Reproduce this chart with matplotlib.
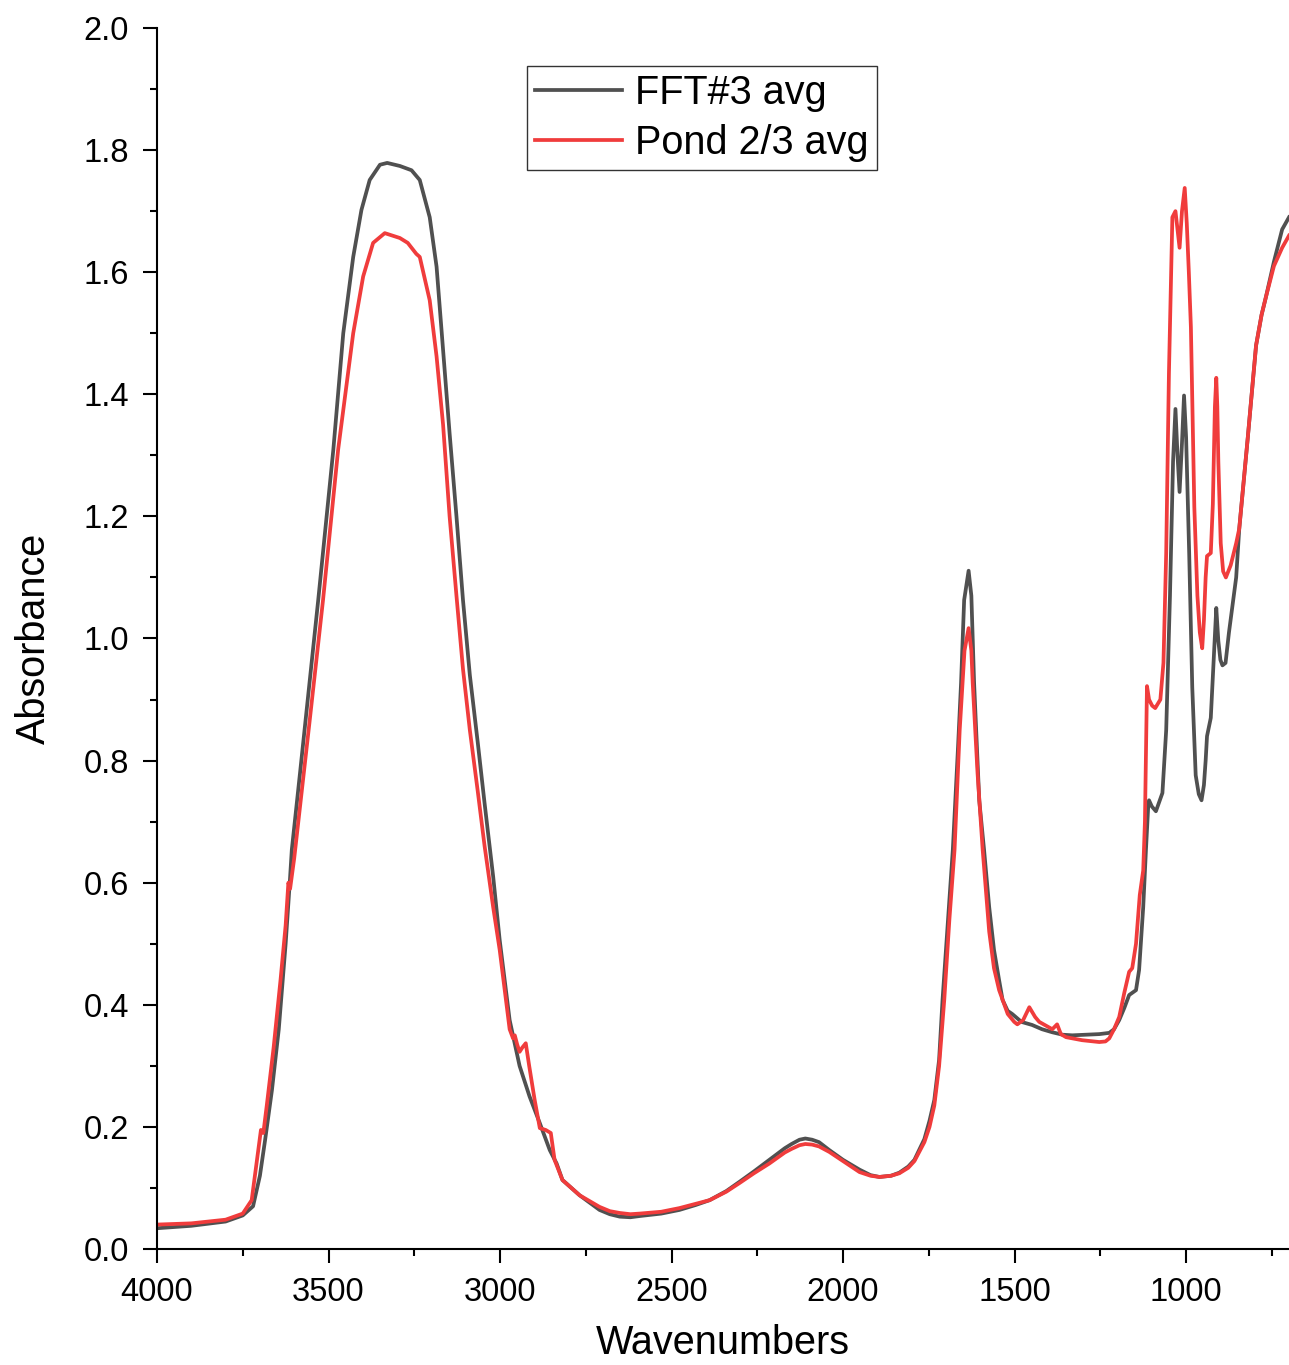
import matplotlib
matplotlib.use("Agg")
from matplotlib import pyplot as plt
from matplotlib.ticker import MultipleLocator, FormatStrFormatter

plt.rcParams['font.family'] = ['Liberation Sans', 'DejaVu Sans']

# FFT#3 avg (wavenumber, absorbance)
wn_fft = [4000, 3900, 3800, 3750, 3720, 3700, 3685, 3665, 3645, 3625, 3613, 3607, 3583, 3555,
          3530, 3486, 3457, 3428, 3404, 3380, 3350, 3329, 3292, 3258, 3234, 3205, 3185, 3166,
          3147, 3127, 3108, 3088, 3065, 3045, 3020, 3001, 2972, 2943, 2914, 2884,
          2855, 2835, 2818, 2768, 2710, 2680, 2651, 2620, 2593, 2530, 2477, 2430, 2389, 2340,
          2302, 2260, 2215, 2170, 2150, 2127, 2110, 2090, 2070, 2040, 2000, 1952, 1920, 1894,
          1860, 1836, 1810, 1792, 1763, 1748, 1734, 1720, 1710, 1695, 1680, 1665, 1656, 1647,
          1634, 1626, 1618, 1603, 1589, 1574, 1560, 1545, 1535, 1520, 1507, 1480, 1449, 1420,
          1390, 1360, 1332, 1290, 1253, 1224, 1210, 1195, 1180, 1166, 1146, 1137, 1125, 1117,
          1110, 1108, 1100, 1088, 1069, 1058, 1047, 1038, 1031, 1025, 1019, 1012, 1006, 1000,
          991, 982, 972, 963, 955, 948, 943, 939, 928, 917, 912, 906, 900, 894, 885, 875, 854,
          845, 820, 796, 780, 767, 744, 720, 700]
abs_fft = [0.034, 0.038, 0.045, 0.055, 0.07, 0.12, 0.178, 0.26, 0.36, 0.50, 0.60, 0.654, 0.78, 0.93,
           1.063, 1.309, 1.50, 1.625, 1.702, 1.751, 1.776, 1.779, 1.774, 1.767, 1.751, 1.69, 1.609, 1.473,
           1.336, 1.2, 1.063, 0.94, 0.83, 0.73, 0.61, 0.506, 0.375, 0.30, 0.25, 0.206,
           0.162, 0.14, 0.113, 0.088, 0.064, 0.057, 0.053, 0.052, 0.054, 0.058, 0.064, 0.072, 0.08, 0.095,
           0.11, 0.127, 0.146, 0.165, 0.172, 0.179, 0.181, 0.179, 0.175, 0.162, 0.146, 0.13, 0.121, 0.118,
           0.12, 0.125, 0.135, 0.146, 0.18, 0.21, 0.244, 0.31, 0.408, 0.53, 0.654, 0.82, 0.927, 1.063,
           1.111, 1.07, 0.927, 0.735, 0.654, 0.56, 0.49, 0.44, 0.408, 0.39, 0.385, 0.372, 0.367, 0.36,
           0.355, 0.351, 0.35, 0.351, 0.352, 0.354, 0.36, 0.375, 0.395, 0.416, 0.424, 0.457, 0.56, 0.654,
           0.73, 0.735, 0.725, 0.717, 0.747, 0.85, 1.07, 1.29, 1.376, 1.30, 1.24, 1.32, 1.398, 1.33,
           1.14, 0.92, 0.776, 0.745, 0.735, 0.76, 0.80, 0.84, 0.87, 0.996, 1.05, 0.996, 0.965, 0.956, 0.96, 1.01, 1.10,
           1.18, 1.33, 1.48, 1.53, 1.56, 1.617, 1.67, 1.69]

# Pond 2/3 avg
wn_pond = [4000, 3900, 3800, 3750, 3724, 3705, 3697, 3690, 3680, 3660, 3640, 3625, 3617, 3612,
           3600, 3583, 3555, 3516, 3472, 3428, 3399, 3370, 3336, 3292, 3269, 3244, 3234, 3205,
           3185, 3166, 3147, 3127, 3108, 3088, 3065, 3045, 3020, 3001, 2972, 2962, 2957, 2950,
           2943, 2935, 2925, 2915, 2899, 2884, 2867, 2852, 2841, 2818, 2768, 2710, 2680, 2651,
           2620, 2593, 2530, 2477, 2430, 2389, 2340, 2302, 2260, 2215, 2170, 2150, 2127, 2110,
           2090, 2070, 2040, 2000, 1952, 1920, 1894, 1860, 1836, 1810, 1792, 1763, 1748, 1734,
           1720, 1705, 1690, 1675, 1660, 1646, 1634, 1626, 1622, 1608, 1593, 1574, 1560, 1545,
           1520, 1501, 1492, 1475, 1457, 1440, 1428, 1390, 1376, 1365, 1350, 1303, 1253, 1235,
           1224, 1210, 1195, 1180, 1166, 1157, 1146, 1135, 1125, 1120, 1114, 1108, 1099, 1090,
           1075, 1066, 1058, 1050, 1040, 1031, 1025, 1019, 1012, 1004, 998, 992, 986, 976, 967,
           960, 953, 948, 943, 939, 928, 922, 916, 912, 909, 906, 899, 892, 884, 870, 854, 845,
           820, 796, 780, 767, 744, 720, 700]
abs_pond = [0.040, 0.042, 0.048, 0.058, 0.08, 0.16, 0.195, 0.19, 0.235, 0.33, 0.44, 0.53, 0.60, 0.59,
            0.64, 0.725, 0.865, 1.063, 1.309, 1.50, 1.593, 1.648, 1.664, 1.656, 1.648, 1.63, 1.625, 1.554,
            1.462, 1.35, 1.2, 1.07, 0.95, 0.85, 0.75, 0.66, 0.56, 0.49, 0.36, 0.345, 0.35, 0.335,
            0.323, 0.33, 0.337, 0.30, 0.244, 0.198, 0.195, 0.19, 0.146, 0.113, 0.088, 0.069, 0.062, 0.059,
            0.057, 0.058, 0.061, 0.067, 0.074, 0.08, 0.094, 0.108, 0.124, 0.14, 0.158, 0.164, 0.17, 0.172,
            0.171, 0.168, 0.159, 0.144, 0.126, 0.12, 0.118, 0.12, 0.124, 0.133, 0.144, 0.175, 0.20, 0.235,
            0.30, 0.408, 0.54, 0.654, 0.85, 0.98, 1.017, 0.98, 0.927, 0.78, 0.654, 0.52, 0.46, 0.424,
            0.385, 0.372, 0.368, 0.375, 0.396, 0.38, 0.372, 0.36, 0.368, 0.352, 0.347, 0.342, 0.339, 0.34,
            0.345, 0.36, 0.38, 0.42, 0.454, 0.46, 0.50, 0.58, 0.62, 0.70, 0.922, 0.90, 0.89, 0.886,
            0.90, 0.96, 1.14, 1.435, 1.69, 1.70, 1.67, 1.64, 1.70, 1.738, 1.68, 1.60, 1.51, 1.215, 1.07,
            1.01, 0.984, 1.03, 1.10, 1.135, 1.14, 1.22, 1.38, 1.427, 1.38, 1.29, 1.156, 1.11, 1.10, 1.12, 1.156, 1.18,
            1.33, 1.48, 1.53, 1.56, 1.61, 1.64, 1.66]

fig = plt.figure(figsize=(12.89, 13.65), dpi=100)
ax = fig.add_axes([157/1289, 1 - 1249/1365, 1 - 157/1289, (1249 - 28)/1365])

ax.plot(wn_fft, abs_fft, color='#505050', lw=2.7, label='FFT#3 avg')
ax.plot(wn_pond, abs_pond, color='#f03c3c', lw=2.7, label='Pond 2/3 avg')

ax.set_xlim(4000, 700)
ax.set_ylim(0, 2.0)
ax.xaxis.set_major_locator(MultipleLocator(500))
ax.xaxis.set_minor_locator(MultipleLocator(250))
ax.yaxis.set_major_locator(MultipleLocator(0.2))
ax.yaxis.set_minor_locator(MultipleLocator(0.1))
ax.yaxis.set_major_formatter(FormatStrFormatter('%.1f'))

for s in ['top', 'right']:
    ax.spines[s].set_visible(False)
for s in ['left', 'bottom']:
    ax.spines[s].set_linewidth(1.5)

ax.tick_params(which='major', direction='out', length=10, width=1.5, labelsize=23.5, pad=10)
ax.tick_params(which='minor', direction='out', length=5, width=1.5)

ax.set_xlabel('Wavenumbers', fontsize=28.5, labelpad=12)
ax.set_ylabel('Absorbance', fontsize=28.5, labelpad=22)

leg = ax.legend(loc='upper left', bbox_to_anchor=(0.327, 0.969), borderaxespad=0,
                fontsize=28.5, frameon=True, fancybox=False, handlelength=2.2,
                handletextpad=0.33, borderpad=0.2, labelspacing=0.3)
leg.get_frame().set_edgecolor('black')
leg.get_frame().set_linewidth(1.0)

fig.savefig('out.png', dpi=100)
